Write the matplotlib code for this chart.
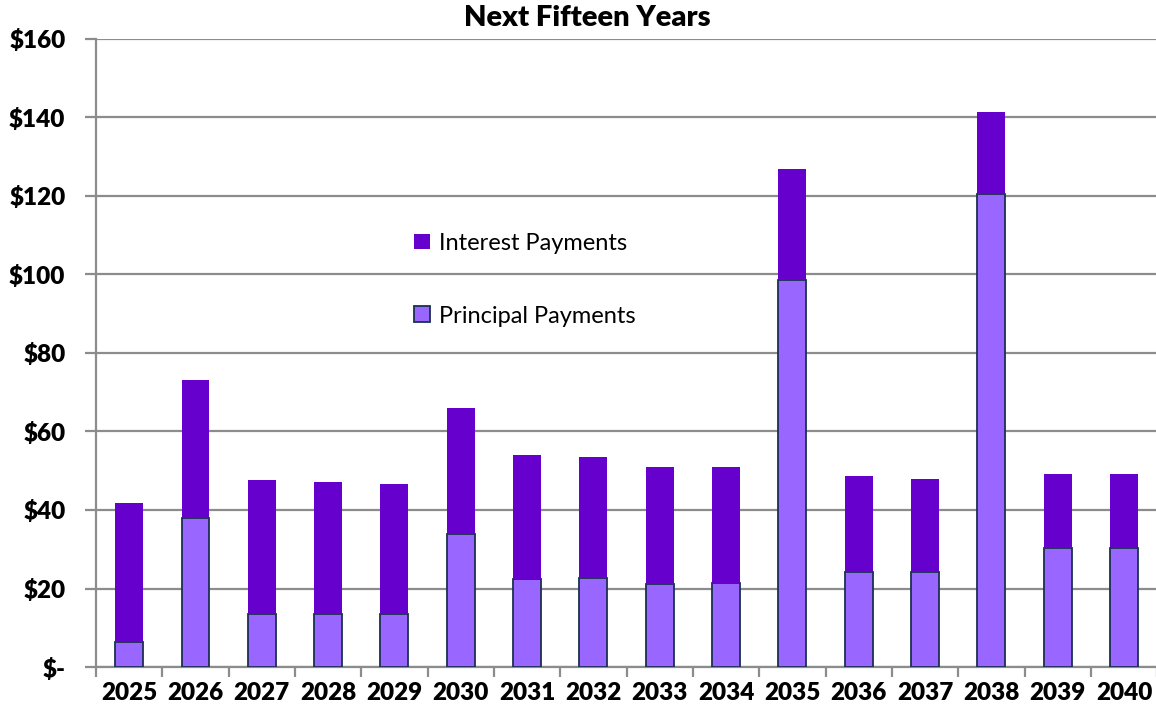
import matplotlib
matplotlib.use("Agg")
import matplotlib.pyplot as plt
import numpy as np

years = ["2025", "2026", "2027", "2028", "2029", "2030", "2031", "2032",
         "2033", "2034", "2035", "2036", "2037", "2038", "2039", "2040"]
principal = [6.4, 38.0, 13.5, 13.5, 13.5, 33.9, 22.4, 22.7,
             21.1, 21.4, 98.6, 24.2, 24.2, 120.4, 30.4, 30.4]
total = [41.8, 73.0, 47.7, 47.0, 46.7, 65.9, 54.0, 53.5,
         50.9, 50.9, 126.7, 48.7, 48.0, 141.2, 49.1, 49.1]
interest = [t - p for t, p in zip(total, principal)]
y_ticks = [0, 20, 40, 60, 80, 100, 120, 140, 160]
y_labels = ["$-", "$20", "$40", "$60", "$80", "$100", "$120", "$140", "$160"]

plt.rcParams["font.family"] = ["Lato", "DejaVu Sans"]

fig = plt.figure(figsize=(11.56, 7.15), dpi=100)
ax = fig.add_axes([0.083, 0.067, 0.918, 0.879])

x = np.arange(len(years))
w = 0.42
grid_col = "#8c8c8c"

ax.bar(x, principal, width=w, color="#9966FF", edgecolor="#1c2f52",
       linewidth=1.3, zorder=3, label="Principal Payments")
ax.bar(x, interest, width=w, bottom=principal, color="#6600CC",
       edgecolor="none", zorder=3, label="Interest Payments")

ax.set_ylim(0, 160)
ax.set_xlim(-0.5, len(years) - 0.5)
ax.set_yticks(y_ticks)
ax.set_yticklabels(y_labels, fontsize=17.5, fontweight="heavy")
ax.yaxis.grid(True, color=grid_col, linewidth=1.6, zorder=0)
ax.set_axisbelow(True)

ax.set_xticks(x)
ax.set_xticklabels(years, fontsize=17.5, fontweight="heavy")
ax.set_xticks(np.arange(-0.5, len(years)), minor=True)
ax.tick_params(axis="x", which="major", length=0, pad=11)
ax.tick_params(axis="x", which="minor", length=7, width=1.6, color=grid_col)
ax.tick_params(axis="y", length=8, width=1.6, color=grid_col, pad=14)

for side in ("top", "right"):
    ax.spines[side].set_visible(False)
for side in ("left", "bottom"):
    ax.spines[side].set_color(grid_col)
    ax.spines[side].set_linewidth(1.6)

handles, labels = ax.get_legend_handles_labels()
leg = ax.legend(handles[::-1], labels[::-1], loc="upper left",
                bbox_to_anchor=(0.28, 0.725), frameon=False, fontsize=17,
                handlelength=0.65, handleheight=0.65, handletextpad=0.4,
                labelspacing=2.2)

fig.text(0.508, 0.975, "Next Fifteen Years", ha="center", va="center",
         fontsize=21, fontweight="heavy")

fig.savefig("out.png", dpi=100)
